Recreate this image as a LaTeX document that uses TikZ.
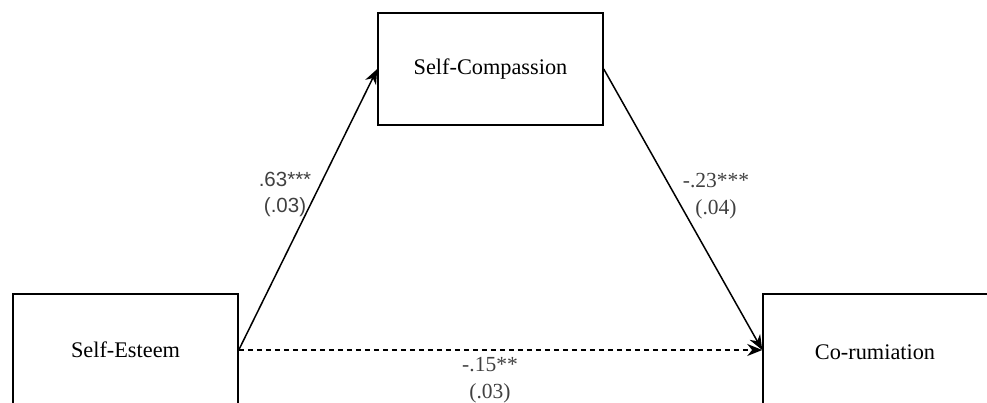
\documentclass[tikz,border=0pt]{standalone}
\usepackage{fontspec}
\setmainfont{Liberation Serif}
\newfontfamily\labsans{Liberation Sans}
\usetikzlibrary{arrows.meta}
\begin{document}
\begin{tikzpicture}[x=1pt,y=-1pt,
  box/.style={draw=black, line width=1.5pt, minimum width=225pt, minimum height=112pt, inner sep=0pt,
    font=\fontsize{22.3}{24}\selectfont},
  lab/.style={inner sep=0pt, align=center, text=black!75, font=\fontsize{21.5}{27}\selectfont},
  conn/.style={line width=1.5pt, -{Stealth[length=15pt,width=12pt]}}]
\useasboundingbox (0,0) rectangle (987,402);
\node[box] (se) at (125.5,350) {Self-Esteem};
\node[box] (sc) at (490.5,69) {Self-Compassion};
\node[box, minimum width=230pt] (cr) at (878,350) {};
\node[font=\fontsize{22.3}{24}\selectfont, inner sep=0pt] (crt) at (875,352) {Co-rumiation};
\draw[conn] (se.east) -- (sc.west);
\draw[conn] (sc.east) -- (cr.west);
\draw[conn, dashed, dash pattern=on 5pt off 4pt] (se.east) -- (cr.west);
\node[lab, font=\labsans\fontsize{20.5}{26}\selectfont] (l1) at (285,194) {.63***\\(.03)};
\node[lab] (l2) at (716,196) {-.23***\\(.04)};
\node[lab] (l3) at (490,380) {-.15**\\(.03)};
\end{tikzpicture}
\end{document}
